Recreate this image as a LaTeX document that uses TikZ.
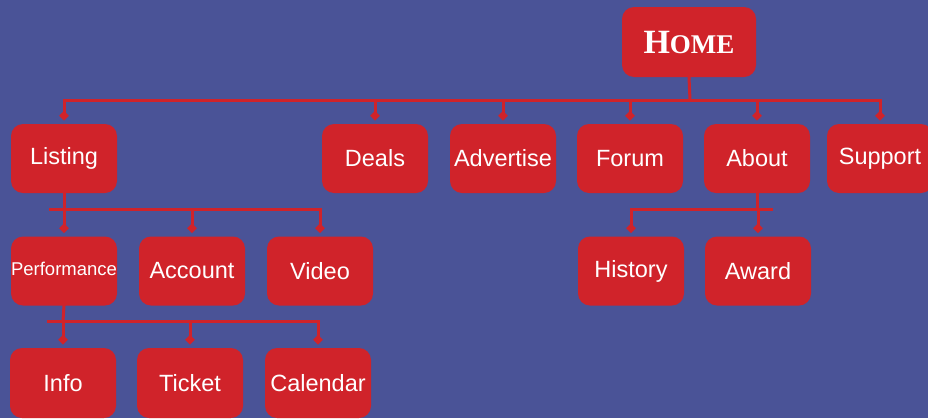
\documentclass[tikz,border=0pt]{standalone}
\usepackage{fontspec}
\setmainfont{Liberation Sans}
\newfontfamily\homefont{Liberation Serif}
\usetikzlibrary{shapes.geometric}
\definecolor{bg}{RGB}{74,83,151}
\definecolor{boxred}{RGB}{208,35,42}
\begin{document}
\begin{tikzpicture}[x=1pt,y=-1pt,
  box/.style={fill=boxred, rounded corners=12pt, minimum width=106pt, minimum height=69pt, inner sep=0pt, text=white, font=\fontsize{23.5}{26}\selectfont},
  line/.style={draw=boxred, line width=3pt, line cap=rect},
  dia/.style={shape=diamond, fill=boxred, minimum width=11pt, minimum height=11pt, inner sep=0pt}
]
\fill[bg] (0,0) rectangle (928,418);
\useasboundingbox (0,0) rectangle (928,418);
\clip (0,0) rectangle (928,418);
% nodes
\node[box, minimum width=134pt, minimum height=70pt] (home) at (689,42) {\homefont\bfseries\fontsize{34}{36}\selectfont H\fontsize{27}{30}\selectfont OME};
\node[box] (listing) at (64,158.5) {Listing};
\node[box] (deals) at (375,158.5) {Deals};
\node[box] (advertise) at (503,158.5) {Advertise};
\node[box] (forum) at (630,158.5) {Forum};
\node[box] (about) at (757,158.5) {About};
\node[box] (support) at (880,158.5) {Support};
\node[box, font=\fontsize{18.5}{20}\selectfont] (performance) at (64,271) {\raisebox{4pt}{Performance}};
\node[box] (account) at (192,271) {Account};
\node[box] (video) at (320,271) {Video};
\node[box] (history) at (631,271) {History};
\node[box] (award) at (758,271) {Award};
\node[box, minimum height=70pt] (info) at (63,383) {Info};
\node[box, minimum height=70pt] (ticket) at (190,383) {Ticket};
\node[box, minimum height=70pt] (calendar) at (318,383) {Calendar};
% bus coordinates
\coordinate (b1) at (690,100);
\coordinate (b2) at (64,209);
\coordinate (b2l) at (50,209);
\coordinate (b3) at (63,321);
\coordinate (b3l) at (48,321);
\coordinate (b4) at (757,209);
\coordinate (b4r) at (771,209);
% level 1
\draw[line] (home.south) -- (b1);
\draw[line] (listing.north |- b1) -- (support.north |- b1);
\foreach \n in {listing,deals,advertise,forum,about,support}
  \draw[line] (\n.north |- b1) -- ([yshift=8pt]\n.north) node[dia] {};
% listing children
\draw[line] (listing.south) -- (b2);
\draw[line] (b2l) -- (video.north |- b2);
\foreach \n in {performance,account,video}
  \draw[line] (\n.north |- b2) -- ([yshift=8pt]\n.north) node[dia] {};
% performance children
\draw[line] (performance.south) -- (b3);
\draw[line] (b3l) -- (calendar.north |- b3);
\foreach \n in {info,ticket,calendar}
  \draw[line] (\n.north |- b3) -- ([yshift=8pt]\n.north) node[dia] {};
% about children
\draw[line] (about.south) -- (b4);
\draw[line] (history.north |- b4) -- (b4r);
\foreach \n in {history,award}
  \draw[line] (\n.north |- b4) -- ([yshift=8pt]\n.north) node[dia] {};
\end{tikzpicture}
\end{document}
